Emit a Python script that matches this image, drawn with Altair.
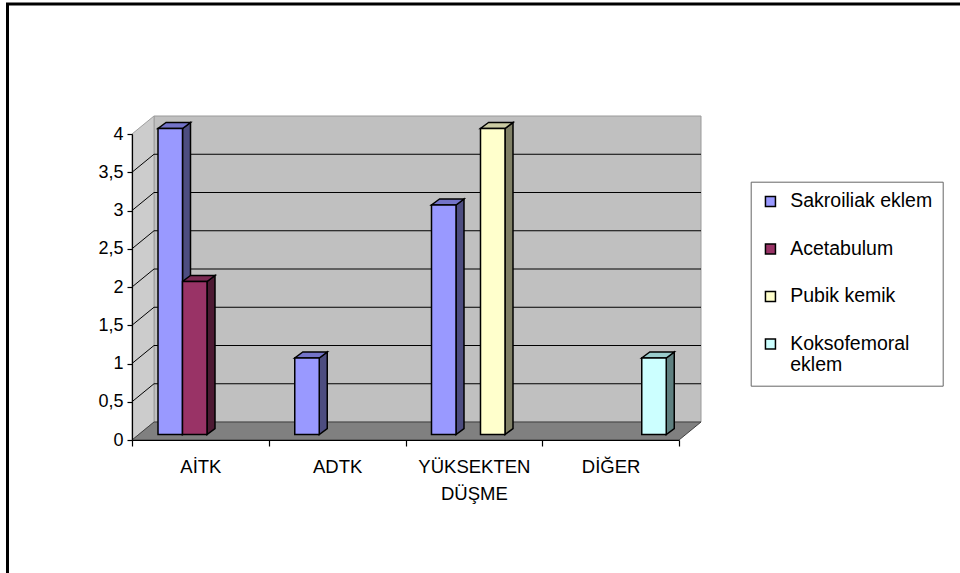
import json
import altair as alt
import pandas as pd

# ---- chart values -------------------------------------------------------
categories = ["AİTK", "ADTK", "YÜKSEKTEN DÜŞME", "DİĞER"]
series = ["Sakroiliak eklem", "Acetabulum", "Pubik kemik", "Koksofemoral eklem"]
sakroiliak = [4, 1, 3, 0]
acetabulum = [2, 0, 0, 0]
pubik = [0, 0, 4, 0]
koksofemoral = [0, 0, 0, 1]
y_ticks = [0, 0.5, 1, 1.5, 2, 2.5, 3, 3.5, 4]

# ---- styling ------------------------------------------------------------
front_colors = ["#9999ff", "#993366", "#ffffcc", "#ccffff"]
side_colors = ["#4d4d80", "#4d1a33", "#808066", "#5f8080"]
top_colors = ["#7373c8", "#7a2952", "#cacaa2", "#99cccc"]
FONT = "Liberation Sans"

W, H = 547, 306          # front plane of the plot
PAD_L, PAD_T = 132, 134
N = len(categories)
Y_MAX = 4
px_x = W / N             # pixels per category
px_y = H / Y_MAX         # pixels per value unit

# oblique projection of the depth axis, in data units
wall_dx, wall_dy = 22 / px_x, 18 / px_y
bar_dx, bar_dy = 8 / px_x, 6 / px_y
bar_lift = 5.5 / px_y
bar_start = 26 / px_x
slot = 24.5 / px_x

XS = alt.Scale(domain=[0, N], nice=False, zero=False)
YS = alt.Scale(domain=[0, Y_MAX], nice=False, zero=False)

cat_expr = json.dumps(categories, ensure_ascii=False)
X_AXIS = alt.Axis(
    values=[i * 0.5 for i in range(2 * N + 1)],
    title=None, grid=False, zindex=1,
    domainColor="black", domainWidth=1.2,
    tickColor="black", tickSize=6, tickWidth=1.2,
    tickOpacity={"condition": {"test": "datum.value % 1 != 0", "value": 0}, "value": 1},
    labelExpr=f"datum.value % 1 == 0.5 ? split({cat_expr}[floor(datum.value)], ' ') : ''",
    labelFont=FONT, labelFontSize=18.5, labelColor="black",
    labelPadding=11, labelLineHeight=27, labelOverlap=False, labelFlush=False,
    labelAlign="center", labelBaseline="top",
)
Y_AXIS = alt.Axis(
    values=y_ticks, title=None, grid=False, zindex=1,
    domainColor="black", domainWidth=1.2,
    tickColor="black", tickSize=5, tickWidth=1.2,
    labelExpr="replace(toString(datum.value), '.', ',')",
    labelFont=FONT, labelFontSize=18, labelColor="black", labelPadding=4,
)


def X(field):
    return alt.X(field, type="quantitative", scale=XS, axis=X_AXIS)


def Y(field):
    return alt.Y(field, type="quantitative", scale=YS, axis=Y_AXIS)


# ---- walls and floor ----------------------------------------------------
side_wall = pd.DataFrame({"x": [0, wall_dx], "hi": [Y_MAX, Y_MAX + wall_dy], "lo": [0, wall_dy]})
floor = pd.DataFrame({"y": [0, wall_dy], "xl": [0, wall_dx], "xr": [N, N + wall_dx]})
back_wall = pd.DataFrame({"x": [wall_dx], "x2": [N + wall_dx], "y": [wall_dy], "y2": [Y_MAX + wall_dy]})
grid_vals = [v for v in y_ticks if 0 < v < Y_MAX]
back_grid = pd.DataFrame({"x": wall_dx, "x2": N + wall_dx,
                          "y": [v + wall_dy for v in grid_vals]})
side_grid = pd.DataFrame({"x": 0.0, "x2": wall_dx, "y": grid_vals,
                          "y2": [v + wall_dy for v in grid_vals]})

# ---- bars ---------------------------------------------------------------
fronts, sides, tops = [], [], []
for s, (name, vals) in enumerate(zip(series, [sakroiliak, acetabulum, pubik, koksofemoral])):
    for c, v in enumerate(vals):
        if v == 0:
            continue
        key = f"{s}-{c}"
        x0 = c + bar_start + s * slot
        x1 = x0 + slot
        top = v + bar_lift
        fronts.append({"bar": key, "series": name, "x0": x0, "x1": x1, "top": top, "base": bar_lift})
        sides.append({"bar": key, "fill": side_colors[s], "x": x1, "hi": top, "lo": bar_lift})
        sides.append({"bar": key, "fill": side_colors[s], "x": x1 + bar_dx,
                      "hi": top + bar_dy, "lo": bar_lift + bar_dy})
        tops.append({"bar": key, "fill": top_colors[s], "y": top, "xl": x0, "xr": x1})
        tops.append({"bar": key, "fill": top_colors[s], "y": top + bar_dy,
                     "xl": x0 + bar_dx, "xr": x1 + bar_dx})

frame = alt.Chart(alt.Data(values=[{}])).mark_rect(
    fill=None, stroke="black", strokeWidth=3
).encode(
    x=alt.value(7.5 - PAD_L), x2=alt.value(W + 400),
    y=alt.value(4 - PAD_T), y2=alt.value(H + 300),
)

side_wall_layer = alt.Chart(side_wall).mark_area(
    orient="vertical", color="#cccccc", stroke="#a0a0a0", strokeWidth=1
).encode(x=X("x"), y=Y("hi"), y2="lo")

back_wall_layer = alt.Chart(back_wall).mark_rect(
    color="#c0c0c0", stroke="#9a9a9a", strokeWidth=1
).encode(x=X("x"), x2="x2", y=Y("y"), y2="y2")

back_grid_layer = alt.Chart(back_grid).mark_rule(color="black", strokeWidth=1).encode(
    x=X("x"), x2="x2", y=Y("y"))

side_grid_layer = alt.Chart(side_grid).mark_rule(color="black", strokeWidth=1).encode(
    x=X("x"), x2="x2", y=Y("y"), y2="y2")

floor_layer = alt.Chart(floor).mark_area(
    orient="horizontal", color="#808080", stroke="#404040", strokeWidth=1
).encode(y=Y("y"), x=X("xl"), x2="xr")

side_layer = alt.Chart(pd.DataFrame(sides)).mark_area(
    orient="vertical", stroke="black", strokeWidth=1.5, opacity=1
).encode(x=X("x"), y=Y("hi"), y2="lo", detail="bar:N",
         fill=alt.Fill("fill:N", scale=None))

top_layer = alt.Chart(pd.DataFrame(tops)).mark_area(
    orient="horizontal", stroke="black", strokeWidth=1.5, opacity=1
).encode(y=Y("y"), x=X("xl"), x2="xr", detail="bar:N",
         fill=alt.Fill("fill:N", scale=None))

front_layer = alt.Chart(pd.DataFrame(fronts)).mark_rect(
    stroke="black", strokeWidth=1.5, opacity=1
).encode(
    x=X("x0"), x2="x1", y=Y("top"), y2="base",
    color=alt.Color(
        "series:N",
        scale=alt.Scale(domain=series, range=front_colors),
        legend=alt.Legend(
            title=None, orient="none",
            legendX=750.7 - PAD_L, legendY=181.7 - PAD_T,
            symbolType="square", symbolSize=100,
            symbolStrokeColor="black", symbolStrokeWidth=1.5, symbolOpacity=1,
            labelFont=FONT, labelFontSize=19.5, labelColor="black",
            labelOffset=10, labelLimit=400,
            labelExpr="length(datum.label) > 16 ? split(datum.label, ' ') : datum.label",
            rowPadding=26.5, padding=10,
            strokeColor="#666666", fillColor="white",
        ),
    ),
)

chart = alt.layer(
    frame, back_wall_layer, side_wall_layer, back_grid_layer, side_grid_layer,
    floor_layer, side_layer, top_layer, front_layer,
).properties(
    width=W, height=H,
    padding={"left": PAD_L, "top": PAD_T, "right": 960 - PAD_L - W, "bottom": 573 - PAD_T - H},
    autosize=alt.AutoSizeParams(type="none"),
    background="white",
).configure_view(stroke=None)

chart.save("out.html", embed_options={"renderer": "svg", "actions": False})
